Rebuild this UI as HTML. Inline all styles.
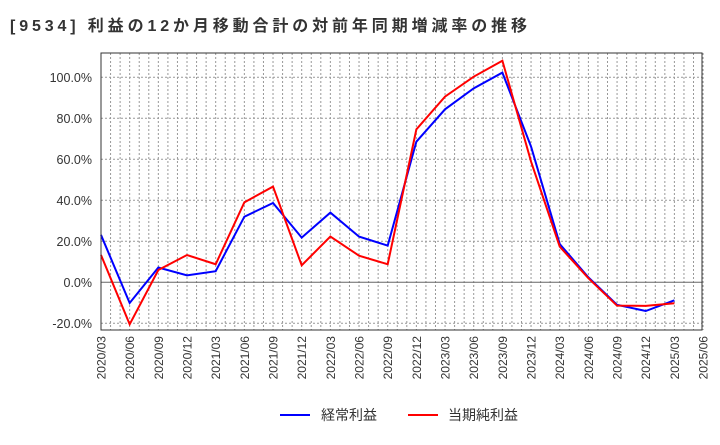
<!DOCTYPE html>
<html><head><meta charset="utf-8"><style>
body{margin:0;background:#fff;font-family:"Liberation Sans","Noto Sans CJK JP",sans-serif}
</style></head><body>
<svg id="chart" width="720" height="440" xmlns="http://www.w3.org/2000/svg" font-family="Liberation Sans, Noto Sans CJK JP, sans-serif">
<text x="10" y="31" font-size="16" font-weight="bold" fill="#333" textLength="517" lengthAdjust="spacing">[9534]  利益の12か月移動合計の対前年同期増減率の推移</text>
<g id="grid"></g><g id="axes"></g><g id="series"></g>
<rect x="101" y="53" width="601" height="277" fill="none" stroke="#333" stroke-width="1"/>
<g>
<line x1="280" y1="415" x2="310" y2="415" stroke="#0000ff" stroke-width="2"/>
<text x="321" y="420" font-size="14" fill="#333">経常利益</text>
<line x1="408" y1="415" x2="438" y2="415" stroke="#ff0000" stroke-width="2"/>
<text x="448" y="420" font-size="14" fill="#333">当期純利益</text>
</g>
</svg>
<script>
const categories=["2020/03","2020/06","2020/09","2020/12","2021/03","2021/06","2021/09","2021/12","2022/03","2022/06","2022/09","2022/12","2023/03","2023/06","2023/09","2023/12","2024/03","2024/06","2024/09","2024/12","2025/03","2025/06"];
const ordinaryProfit=[23.1,-10.1,7.2,3.4,5.4,32,38.7,21.8,34,22.3,17.9,68.6,84.4,94.6,102.3,66.2,18.7,2.4,-11,-14,-8.8];
const netProfit=[13.3,-20.5,6,13.3,8.8,39,46.7,8.3,22.3,13,8.8,74.6,90.6,100.3,108.1,58.9,17.4,2,-11.4,-11.5,-10.2];
const yTicks=[-20,0,20,40,60,80,100];
const NS="http://www.w3.org/2000/svg";
const L=101,R=702,T=53,B=330,step=28.67;
const x=i=>L+i*step;
const y=v=>282.3-v*2.05;
function mk(tag,attrs,parent){const e=document.createElementNS(NS,tag);for(const k in attrs)e.setAttribute(k,attrs[k]);parent.appendChild(e);return e;}
const grid=document.getElementById('grid'),axes=document.getElementById('axes'),ser=document.getElementById('series');
for(let m=1;m<categories.length*3-2;m++){const xx=L+m*step/3;
const g=mk('line',{x1:xx,x2:xx,y1:T,y2:B,stroke:'#999','stroke-dasharray':'2,2','stroke-width':1},grid);

}
yTicks.forEach(v=>{const yy=y(v);
const g=mk('line',{x1:L,x2:R,y1:yy,y2:yy,stroke:v===0?'#666':'#999','stroke-dasharray':v===0?'':'2,2','stroke-width':1},grid);


const t=mk('text',{x:92,y:yy+4.5,'text-anchor':'end','font-size':12.5,fill:'#333'},axes);t.textContent=v.toFixed(1)+'%';

});
categories.forEach((c,i)=>{const xx=x(i);
const t=mk('text',{x:0,y:0,transform:`translate(${xx+4.5},336) rotate(-90)`,'text-anchor':'end','font-size':12,fill:'#333'},axes);t.textContent=c;

});
function line(data,color,name){const p=mk('polyline',{points:data.map((v,i)=>x(i)+','+y(v)).join(' '),fill:'none',stroke:color,'stroke-width':2},ser);

}
line(ordinaryProfit,'#0000ff','ordinary-profit-line');
line(netProfit,'#ff0000','net-profit-line');
</script>
</body></html>
